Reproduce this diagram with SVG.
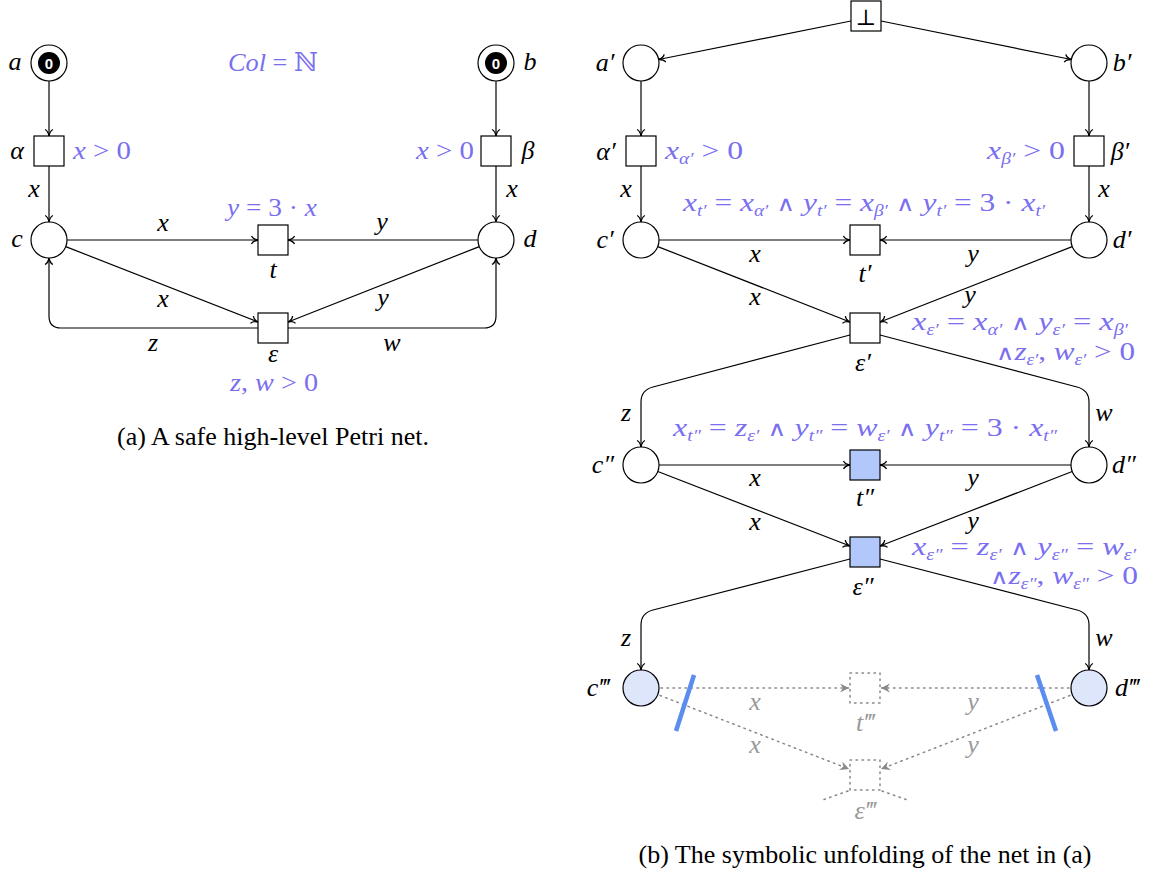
<svg xmlns="http://www.w3.org/2000/svg" width="1160" height="876" viewBox="0 0 1160 876">
<style>
.pl{fill:#fff;stroke:#000;stroke-width:1.2}
.tr{fill:#fff;stroke:#000;stroke-width:1.2}
.trb{fill:#b3c8fa;stroke:#000;stroke-width:1.2}
.plb{fill:#dde6fb;stroke:#000;stroke-width:1.2}
.ghost{fill:none;stroke:#888;stroke-width:1.5;stroke-dasharray:1.5 4.5;stroke-linecap:round}
.arc{fill:none;stroke:#000;stroke-width:1.2;marker-end:url(#arr)}
.garc{fill:none;stroke:#888;stroke-width:1.5;stroke-dasharray:1.5 4.5;stroke-linecap:round;marker-end:url(#garr)}
.cut{stroke:#5b8cf0;stroke-width:4.5;fill:none}
text{font-family:"Liberation Serif","DejaVu Serif",serif;font-size:26px;font-style:italic;fill:#000}
.bf{fill:#7a6ff0}
.gt{fill:#999}
.u{font-style:normal}
.w{font-style:normal;font-family:"DejaVu Serif",serif;font-size:21px}
.s{font-size:16px}
.cap{font-style:normal;font-size:26px}
.tok{font-family:"Liberation Sans","DejaVu Sans",sans-serif;font-style:normal;font-weight:bold;font-size:15px;fill:#fff}
</style>
<defs>
<marker id="arr" viewBox="-8 -5 10 10" refX="0" refY="0" markerWidth="10" markerHeight="10" markerUnits="userSpaceOnUse" orient="auto">
<path d="M-6.5,-4 C-5.5,-1.5 -2.5,-0.5 0,0 C-2.5,0.5 -5.5,1.5 -6.5,4" fill="none" stroke="#000" stroke-width="1.3"/>
</marker>
<marker id="garr" viewBox="-10 -6 12 12" refX="0" refY="0" markerWidth="12" markerHeight="12" markerUnits="userSpaceOnUse" orient="auto">
<path d="M0,0 L-9,-4.5 L-6,0 L-9,4.5 Z" fill="#888"/>
</marker>
</defs>

<!-- ================= (a) ================= -->
<g id="connectors-a">
<line class="arc" x1="49" y1="81" x2="49" y2="136"/>
<line class="arc" x1="49" y1="166" x2="49" y2="222"/>
<line class="arc" x1="496" y1="81" x2="496" y2="136"/>
<line class="arc" x1="496" y1="166" x2="496" y2="222"/>
<line class="arc" x1="67" y1="240" x2="258" y2="240"/>
<line class="arc" x1="478" y1="240" x2="288" y2="240"/>
<line class="arc" x1="65.7" y1="246.6" x2="258" y2="322"/>
<line class="arc" x1="479.3" y1="246.6" x2="288" y2="322"/>
<path class="arc" d="M258,328 H61 Q49,328 49,316 V258"/>
<path class="arc" d="M288,328 H484 Q496,328 496,316 V258"/>
<text x="34" y="197" text-anchor="middle">x</text>
<text x="512" y="197" text-anchor="middle">x</text>
<text x="163" y="231" text-anchor="middle">x</text>
<text x="382" y="230" text-anchor="middle">y</text>
<text x="163" y="307" text-anchor="middle">x</text>
<text x="383" y="306" text-anchor="middle">y</text>
<text x="153" y="351" text-anchor="middle">z</text>
<text x="392" y="351" text-anchor="middle">w</text>
</g>
<g id="a">
<circle class="pl" cx="49" cy="63" r="18"/>
<circle cx="49" cy="63" r="11" fill="#000"/>
<text class="tok" x="49" y="68.5" text-anchor="middle">0</text>
<text x="15" y="70" text-anchor="middle">a</text>
</g>
<g id="b">
<circle class="pl" cx="496" cy="63" r="18"/>
<circle cx="496" cy="63" r="11" fill="#000"/>
<text class="tok" x="496" y="68.5" text-anchor="middle">0</text>
<text x="530" y="70" text-anchor="middle">b</text>
</g>
<text class="bf" x="273" y="71" text-anchor="middle" textLength="90" lengthAdjust="spacingAndGlyphs">Col<tspan class="u"> = ℕ</tspan></text>
<g id="alpha">
<rect class="tr" x="34" y="136" width="30" height="30"/>
<text x="17" y="159" text-anchor="middle">α</text>
<text class="bf" x="73" y="159" textLength="58" lengthAdjust="spacingAndGlyphs">x<tspan class="u"> &gt; 0</tspan></text>
</g>
<g id="beta">
<rect class="tr" x="481" y="136" width="30" height="30"/>
<text x="528" y="159" text-anchor="middle">β</text>
<text class="bf" x="416" y="159" textLength="58" lengthAdjust="spacingAndGlyphs">x<tspan class="u"> &gt; 0</tspan></text>
</g>
<g id="c">
<circle class="pl" cx="49" cy="240" r="18"/>
<text x="17" y="247" text-anchor="middle">c</text>
</g>
<g id="d">
<circle class="pl" cx="496" cy="240" r="18"/>
<text x="530" y="247" text-anchor="middle">d</text>
</g>
<g id="t">
<rect class="tr" x="258" y="225" width="30" height="30"/>
<text x="273" y="278" text-anchor="middle">t</text>
<text class="bf" x="227" y="216" textLength="90" lengthAdjust="spacingAndGlyphs">y<tspan class="u"> = 3 · </tspan>x</text>
</g>
<g id="eps">
<rect class="tr" x="258" y="313" width="30" height="30"/>
<text x="273" y="362" text-anchor="middle">ε</text>
<text class="bf" x="230" y="391" textLength="88" lengthAdjust="spacingAndGlyphs">z<tspan class="u">, </tspan>w<tspan class="u"> &gt; 0</tspan></text>
</g>
<text class="cap" x="273" y="445" text-anchor="middle">(a) A safe high-level Petri net.</text>

<!-- ================= (b) ================= -->
<g id="connectors-b">
<line class="arc" x1="851" y1="21" x2="658.6" y2="59.5"/>
<line class="arc" x1="881" y1="21" x2="1071.4" y2="59.5"/>
<line class="arc" x1="641" y1="81" x2="641" y2="136"/>
<line class="arc" x1="641" y1="166" x2="641" y2="222"/>
<line class="arc" x1="1089" y1="81" x2="1089" y2="136"/>
<line class="arc" x1="1089" y1="166" x2="1089" y2="222"/>
<line class="arc" x1="659" y1="240" x2="850" y2="240"/>
<line class="arc" x1="1071" y1="240" x2="880" y2="240"/>
<line class="arc" x1="657.8" y1="246.6" x2="850" y2="322"/>
<line class="arc" x1="1072.2" y1="246.6" x2="880" y2="322"/>
<path class="arc" d="M850,335 L653,387 Q641,390 641,402 V447"/>
<path class="arc" d="M880,335 L1077,387 Q1089,390 1089,402 V447"/>
<line class="arc" x1="659" y1="465" x2="850" y2="465"/>
<line class="arc" x1="1071" y1="465" x2="880" y2="465"/>
<line class="arc" x1="657.8" y1="471.5" x2="850" y2="546"/>
<line class="arc" x1="1072.2" y1="471.5" x2="880" y2="546"/>
<path class="arc" d="M850,559 L653,610 Q641,613 641,625 V670"/>
<path class="arc" d="M880,559 L1077,610 Q1089,613 1089,625 V670"/>
<line class="garc" x1="661" y1="688" x2="849" y2="688"/>
<line class="garc" x1="1069" y1="688" x2="881" y2="688"/>
<line class="garc" x1="660" y1="695.5" x2="849" y2="769"/>
<line class="garc" x1="1070" y1="695.5" x2="881" y2="769"/>
<line class="ghost" x1="848" y1="791" x2="820" y2="801"/>
<line class="ghost" x1="882" y1="791" x2="910" y2="801"/>
<line class="cut" x1="694" y1="675" x2="676" y2="731"/>
<line class="cut" x1="1037" y1="675" x2="1056" y2="731"/>
<text x="626" y="197" text-anchor="middle">x</text>
<text x="1104" y="197" text-anchor="middle">x</text>
<text x="755" y="262" text-anchor="middle">x</text>
<text x="973" y="262" text-anchor="middle">y</text>
<text x="755" y="305" text-anchor="middle">x</text>
<text x="970" y="303" text-anchor="middle">y</text>
<text x="626" y="421" text-anchor="middle">z</text>
<text x="1104" y="421" text-anchor="middle">w</text>
<text x="755" y="486" text-anchor="middle">x</text>
<text x="973" y="486" text-anchor="middle">y</text>
<text x="755" y="530" text-anchor="middle">x</text>
<text x="973" y="529" text-anchor="middle">y</text>
<text x="626" y="646" text-anchor="middle">z</text>
<text x="1104" y="646" text-anchor="middle">w</text>
<text class="gt" x="755" y="710" text-anchor="middle">x</text>
<text class="gt" x="973" y="710" text-anchor="middle">y</text>
<text class="gt" x="755" y="753" text-anchor="middle">x</text>
<text class="gt" x="973" y="753" text-anchor="middle">y</text>
</g>
<g id="bot">
<rect class="tr" x="851" y="1" width="30" height="30"/>
<text class="u" x="866" y="25" text-anchor="middle" style="font-family:'DejaVu Serif',serif;font-size:22px">⊥</text>
</g>
<g id="a1">
<circle class="pl" cx="641" cy="63" r="18"/>
<text x="605" y="71" text-anchor="middle">a′</text>
</g>
<g id="b1">
<circle class="pl" cx="1089" cy="63" r="18"/>
<text x="1122" y="71" text-anchor="middle">b′</text>
</g>
<g id="alpha1">
<rect class="tr" x="626" y="136" width="30" height="30"/>
<text x="606" y="160" text-anchor="middle">α′</text>
<text class="bf" x="665" y="159" textLength="78" lengthAdjust="spacingAndGlyphs">x<tspan class="s" dy="5">α′</tspan><tspan class="u" dy="-5"> &gt; 0</tspan></text>
</g>
<g id="beta1">
<rect class="tr" x="1074" y="136" width="30" height="30"/>
<text x="1120" y="160" text-anchor="middle">β′</text>
<text class="bf" x="987" y="159" textLength="78" lengthAdjust="spacingAndGlyphs">x<tspan class="s" dy="5">β′</tspan><tspan class="u" dy="-5"> &gt; 0</tspan></text>
</g>
<g id="c1">
<circle class="pl" cx="641" cy="240" r="18"/>
<text x="605" y="248" text-anchor="middle">c′</text>
</g>
<g id="d1">
<circle class="pl" cx="1089" cy="240" r="18"/>
<text x="1122" y="248" text-anchor="middle">d′</text>
</g>
<g id="t1">
<rect class="tr" x="850" y="225" width="30" height="30"/>
<text x="865" y="282" text-anchor="middle">t′</text>
<text class="bf" x="683" y="211" textLength="362" lengthAdjust="spacingAndGlyphs">x<tspan class="s" dy="5">t′</tspan><tspan class="u" dy="-5"> = </tspan>x<tspan class="s" dy="5">α′</tspan><tspan class="w" dy="-5"> ∧ </tspan>y<tspan class="s" dy="5">t′</tspan><tspan class="u" dy="-5"> = </tspan>x<tspan class="s" dy="5">β′</tspan><tspan class="w" dy="-5"> ∧ </tspan>y<tspan class="s" dy="5">t′</tspan><tspan class="u" dy="-5"> = 3 · </tspan>x<tspan class="s" dy="5">t′</tspan></text>
</g>
<g id="eps1">
<rect class="tr" x="850" y="313" width="30" height="30"/>
<text x="863" y="371" text-anchor="middle">ε′</text>
<text class="bf" x="912" y="330" textLength="216" lengthAdjust="spacingAndGlyphs">x<tspan class="s" dy="5">ε′</tspan><tspan class="u" dy="-5"> = </tspan>x<tspan class="s" dy="5">α′</tspan><tspan class="w" dy="-5"> ∧ </tspan>y<tspan class="s" dy="5">ε′</tspan><tspan class="u" dy="-5"> = </tspan>x<tspan class="s" dy="5">β′</tspan></text>
<text class="bf" x="996" y="360" textLength="139" lengthAdjust="spacingAndGlyphs"><tspan class="w">∧</tspan>z<tspan class="s" dy="5">ε′</tspan><tspan class="u" dy="-5">, </tspan>w<tspan class="s" dy="5">ε′</tspan><tspan class="u" dy="-5"> &gt; 0</tspan></text>
</g>
<g id="c2">
<circle class="pl" cx="641" cy="465" r="18"/>
<text x="603" y="473" text-anchor="middle">c″</text>
</g>
<g id="d2">
<circle class="pl" cx="1089" cy="465" r="18"/>
<text x="1124" y="473" text-anchor="middle">d″</text>
</g>
<g id="t2">
<rect class="trb" x="850" y="450" width="30" height="30"/>
<text x="865" y="506" text-anchor="middle">t″</text>
<text class="bf" x="673" y="436" textLength="384" lengthAdjust="spacingAndGlyphs">x<tspan class="s" dy="5">t″</tspan><tspan class="u" dy="-5"> = </tspan>z<tspan class="s" dy="5">ε′</tspan><tspan class="w" dy="-5"> ∧ </tspan>y<tspan class="s" dy="5">t″</tspan><tspan class="u" dy="-5"> = </tspan>w<tspan class="s" dy="5">ε′</tspan><tspan class="w" dy="-5"> ∧ </tspan>y<tspan class="s" dy="5">t″</tspan><tspan class="u" dy="-5"> = 3 · </tspan>x<tspan class="s" dy="5">t″</tspan></text>
</g>
<g id="eps2">
<rect class="trb" x="850" y="537" width="30" height="30"/>
<text x="863" y="595" text-anchor="middle">ε″</text>
<text class="bf" x="912" y="555" textLength="224" lengthAdjust="spacingAndGlyphs">x<tspan class="s" dy="5">ε″</tspan><tspan class="u" dy="-5"> = </tspan>z<tspan class="s" dy="5">ε′</tspan><tspan class="w" dy="-5"> ∧ </tspan>y<tspan class="s" dy="5">ε″</tspan><tspan class="u" dy="-5"> = </tspan>w<tspan class="s" dy="5">ε′</tspan></text>
<text class="bf" x="990" y="584" textLength="148" lengthAdjust="spacingAndGlyphs"><tspan class="w">∧</tspan>z<tspan class="s" dy="5">ε″</tspan><tspan class="u" dy="-5">, </tspan>w<tspan class="s" dy="5">ε″</tspan><tspan class="u" dy="-5"> &gt; 0</tspan></text>
</g>
<g id="c3">
<circle class="plb" cx="641" cy="688" r="18"/>
<text x="598" y="696" text-anchor="middle">c‴</text>
</g>
<g id="d3">
<circle class="plb" cx="1089" cy="688" r="18"/>
<text x="1127" y="696" text-anchor="middle">d‴</text>
</g>
<g id="t3">
<rect class="ghost" x="850" y="673" width="30" height="30"/>
<text class="gt" x="865" y="731" text-anchor="middle">t‴</text>
</g>
<g id="eps3">
<rect class="ghost" x="850" y="760" width="30" height="30"/>
<text class="gt" x="865" y="819" text-anchor="middle">ε‴</text>
</g>
<text class="cap" x="865" y="863" text-anchor="middle">(b) The symbolic unfolding of the net in (a)</text>
</svg>
